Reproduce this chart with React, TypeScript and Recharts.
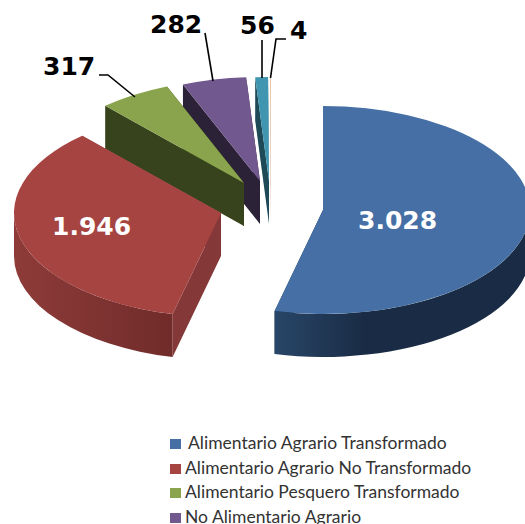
import React from "react";
import { PieChart, Pie, Legend } from "recharts";

// Drawn back to front, so the list runs from the rearmost slice to the frontmost one.
const names = [
  "Otros",
  "Alimentario Pesquero No Transformado",
  "No Alimentario Agrario",
  "Alimentario Pesquero Transformado",
  "Alimentario Agrario No Transformado",
  "Alimentario Agrario Transformado",
];
const values = [4, 56, 282, 317, 1946, 3028];
const valueLabels = ["4", "56", "282", "317", "1.946", "3.028"];
const colors = ["#E6BF9B", "#4096B0", "#71588F", "#89A44C", "#A64442", "#4670A5"];
const radialWallColors = ["#C9A27F", "#1E4A57", "#2C2238", "#37431C", "#843837", "#1B2D46"];
const outerWallFrom = ["#C9A27F", "#1E4A57", "#2C2238", "#37431C", "#8E3B39", "#284668"];
const outerWallTo = ["#C9A27F", "#1E4A57", "#2C2238", "#37431C", "#702C2A", "#1A2C45"];
const legendEntries = names.slice().reverse().slice(0, 4);

const data = names.map((name, i) => ({ name, value: values[i], idx: i }));

const RATIO = 104 / 207;
const DEPTH = 43;
const explode = [
  [-52, -29],
  [-54, -29],
  [-63, -29],
  [-79, -27],
  [-102, 3],
  [0, 0],
];
const labelSpots: { x: number; y: number; fill: string; line?: number[][] }[] = [
  { x: 290, y: 39, fill: "#000", line: [[286, 39], [276, 39], [270.5, 78]] },
  { x: 240, y: 34, fill: "#000", line: [[262, 40], [262, 78]] },
  { x: 150, y: 33, fill: "#000", line: [[205, 33], [213, 81]] },
  { x: 43, y: 75, fill: "#000", line: [[99, 75], [108, 75], [135, 97]] },
  { x: 52, y: 235, fill: "#fff" },
  { x: 358, y: 229, fill: "#fff" },
];

function Slice3D(props: any) {
  const { cx, cy, outerRadius: rx, startAngle, endAngle } = props;
  const idx = names.indexOf(props.name);
  const ox = cx + explode[idx][0];
  const oy = cy + explode[idx][1];
  const ry = rx * RATIO;
  const a1 = Math.min(startAngle, endAngle);
  const a2 = Math.max(startAngle, endAngle);
  const pt = (deg: number, dy = 0) => {
    const r = (deg * Math.PI) / 180;
    return `${ox + rx * Math.cos(r)} ${oy - ry * Math.sin(r) + dy}`;
  };
  const large = a2 - a1 > 180 ? 1 : 0;
  const top = `M${ox} ${oy} L${pt(a1)} A${rx} ${ry} 0 ${large} 0 ${pt(a2)} Z`;
  const radial = (deg: number) =>
    `M${ox} ${oy} L${pt(deg)} L${pt(deg, DEPTH)} L${ox} ${oy + DEPTH} Z`;
  const w1 = Math.max(a1, 180);
  const w2 = Math.min(a2, 360);
  const gid = `wall-${idx}`;
  const fullBack = idx === 5;
  return (
    <g>
      <defs>
        <linearGradient
          id={gid}
          gradientUnits="userSpaceOnUse"
          x1={ox - (fullBack ? 48 : rx)}
          x2={ox + (fullBack ? 40 : -48)}
          y1={0}
          y2={0}
        >
          <stop offset="0" stopColor={outerWallFrom[idx]} />
          <stop offset="1" stopColor={outerWallTo[idx]} />
        </linearGradient>
      </defs>
      <path d={radial(a1)} fill={radialWallColors[idx]} />
      <path d={radial(a2)} fill={radialWallColors[idx]} />
      {w2 > w1 && (
        <path
          d={`M${pt(w1)} A${rx} ${ry} 0 0 0 ${pt(w2)} L${pt(w2, DEPTH)} A${rx} ${ry} 0 0 1 ${pt(w1, DEPTH)} Z`}
          fill={`url(#${gid})`}
        />
      )}
      <path d={top} fill={colors[idx]} />
    </g>
  );
}

function SliceLabel(props: any) {
  const idx = names.indexOf(props.name);
  const spot = labelSpots[idx];
  return (
    <g>
      {spot.line && (
        <polyline
          points={spot.line.map((p) => p.join(",")).join(" ")}
          fill="none"
          stroke="#000"
          strokeWidth={1.6}
        />
      )}
      <text
        x={spot.x}
        y={spot.y}
        fill={spot.fill}
        fontFamily="'DejaVu Sans', sans-serif"
        fontWeight={700}
        fontSize={25}
      >
        {valueLabels[idx]}
      </text>
    </g>
  );
}

function LegendBlock() {
  const indent = [188, 185, 185, 185];
  const squareColors = [colors[5], colors[4], colors[3], colors[2]];
  return (
    <div style={{ position: "relative", width: 525, height: 524 }}>
      {legendEntries.map((entry, i) => (
        <React.Fragment key={entry}>
          <div
            style={{
              position: "absolute",
              left: 170,
              top: 439 + i * 24.5,
              width: 11,
              height: 10,
              background: squareColors[i],
            }}
          />
          <div
            style={{
              position: "absolute",
              left: indent[i],
              top: 433 + i * 24.5,
              fontFamily: "Lato, sans-serif",
              fontSize: 17.5,
              lineHeight: "20px",
              color: "#333",
              whiteSpace: "nowrap",
            }}
          >
            {entry}
          </div>
        </React.Fragment>
      ))}
    </div>
  );
}

export default function App() {
  return (
    <div style={{ position: "absolute", left: 0, top: 0, width: 525, height: 524, overflow: "hidden", background: "#fff" }}>
      <PieChart width={525} height={524} margin={{ top: 0, right: 0, bottom: 0, left: 0 }}>
        <Pie
          data={data}
          dataKey="value"
          nameKey="name"
          cx={323}
          cy={210}
          innerRadius={0}
          outerRadius={207}
          startAngle={90}
          endAngle={450}
          stroke="none"
          isAnimationActive={false}
          shape={Slice3D}
          activeShape={Slice3D}
          inactiveShape={Slice3D}
          label={SliceLabel}
          labelLine={false}
        />
        <Legend
          content={<LegendBlock />}
          wrapperStyle={{ position: "absolute", left: 0, top: 0, width: 525, height: 524, bottom: "auto", pointerEvents: "none" }}
        />
      </PieChart>
    </div>
  );
}
